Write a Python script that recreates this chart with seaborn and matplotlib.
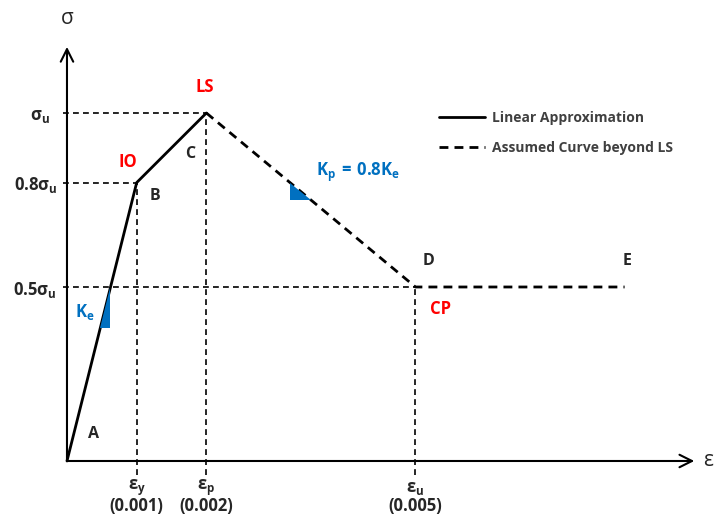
import numpy as np
import matplotlib
matplotlib.use("Agg")
import matplotlib.pyplot as plt
import seaborn as sns

# Idealised stress-strain backbone (stress as a fraction of sigma_u)
strain_linear = [0.0, 0.001, 0.002]          # A -> B -> C
stress_linear = [0.0, 0.8, 1.0]
strain_assumed = [0.002, 0.005, 0.008]       # C -> D -> E
stress_assumed = [1.0, 0.5, 0.5]

point_names = ["A", "B", "C", "D", "E"]
level_values = [1.0, 0.8, 0.5]
level_labels = [r"$\mathbf{\sigma_u}$", r"$\mathbf{0.8\sigma_u}$", r"$\mathbf{0.5\sigma_u}$"]
strain_marks = [0.001, 0.002, 0.005]
strain_symbols = [r"$\mathbf{\varepsilon_y}$", r"$\mathbf{\varepsilon_p}$", r"$\mathbf{\varepsilon_u}$"]
strain_values = ["(0.001)", "(0.002)", "(0.005)"]
performance_levels = ["IO", "LS", "CP"]
legend_labels = ["Linear Approximation", "Assumed Curve beyond LS"]

sns.set_style("white")
plt.rcParams["font.family"] = ["Open Sans", "DejaVu Sans"]
plt.rcParams["font.weight"] = "bold"
plt.rcParams["mathtext.fontset"] = "custom"
plt.rcParams["mathtext.rm"] = "Open Sans:bold"
plt.rcParams["mathtext.it"] = "Open Sans:bold"
plt.rcParams["mathtext.bf"] = "Open Sans:bold"
plt.rcParams["mathtext.sf"] = "Open Sans:bold"

fig = plt.figure(figsize=(7.15, 5.19), dpi=100)
ax = fig.add_axes([0, 0, 1, 1])
ax.set_xlim(-0.000961, 0.009297)
ax.set_ylim(-0.1667, 1.3247)
ax.axis("off")

BLUE = "#0070C0"
RED = "#FF0000"

# main curve
sns.lineplot(x=strain_linear, y=stress_linear, ax=ax, color="black", lw=2.0,
             sort=False, label=legend_labels[0])
sns.lineplot(x=strain_assumed, y=stress_assumed, ax=ax, color="black", lw=2.0,
             sort=False, linestyle=(0, (3.2, 2.2)), label=legend_labels[1])

# guide lines to the axes
guide = dict(color="black", lw=1.2, linestyle=(0, (3.5, 2.5)))
x_tick = -0.00006
ax.hlines(level_values[0], x_tick, strain_linear[2], **guide)
ax.hlines(level_values[1], x_tick, strain_linear[1], **guide)
ax.hlines(level_values[2], x_tick, strain_assumed[1], **guide)
y_tick = -0.04
ax.vlines(strain_marks[0], y_tick, stress_linear[1], **guide)
ax.vlines(strain_marks[1], y_tick, stress_linear[2], **guide)
ax.vlines(strain_marks[2], y_tick, stress_assumed[1], **guide)

# axes with open arrow heads
arrow = dict(arrowstyle="->,head_length=0.9,head_width=0.45", color="black", lw=1.5,
             shrinkA=0, shrinkB=0)
ax.annotate("", xy=(0.0090, 0), xytext=(0, 0), arrowprops=arrow)
ax.annotate("", xy=(0, 1.19), xytext=(0, 0), arrowprops=arrow)
ax.text(0.00001, 1.272, "σ", ha="center", va="center", fontsize=15, fontweight="normal")
ax.text(0.00912, 0.0, "ε", ha="left", va="center", fontsize=15, fontweight="normal")

# stiffness triangles
def on_line(xs, ys, stress):
    return np.interp(stress, ys, xs)

ke_top, ke_bot = 0.497, 0.382
ke_x = on_line(strain_linear[:2], stress_linear[:2], ke_top)
ke_xl = on_line(strain_linear[:2], stress_linear[:2], ke_bot)
ax.fill([ke_x, ke_x, ke_xl], [ke_top, ke_bot, ke_bot], color=BLUE, lw=0, zorder=3)

kp_x = 0.0032
kp_top = np.interp(kp_x, strain_assumed[:2], stress_assumed[:2])
kp_bot = 0.75
kp_xr = on_line(strain_assumed[1::-1], stress_assumed[1::-1], kp_bot)
ax.fill([kp_x, kp_x, kp_xr], [kp_top, kp_bot, kp_bot], color=BLUE, lw=0, zorder=3)

ax.text(0.000255, 0.428, r"$\mathbf{K_e}$", color=BLUE, fontsize=12, ha="center", va="center")
ax.text(0.00357, 0.828, r"$\mathbf{K_p\,=\,0.8K_e}$", color=BLUE, fontsize=12,
        ha="left", va="center")

# stress level labels
level_right = [-0.00024, -0.00014, -0.00015]
for val, lab, xr in zip(level_values, level_labels, level_right):
    ax.text(xr, val - 0.008, lab, ha="right", va="center", fontsize=12)

# strain labels
for xm, sym, v in zip(strain_marks, strain_symbols, strain_values):
    ax.text(xm, -0.078, sym, ha="center", va="center", fontsize=12)
    ax.text(xm, -0.128, v, ha="center", va="center", fontsize=12)

# point names
pts_x = [0.000375, 0.00126, 0.00177, 0.00519, 0.00804]
pts_y = [0.077, 0.762, 0.882, 0.575, 0.575]
for name, px, py in zip(point_names, pts_x, pts_y):
    ax.text(px, py, name, ha="center", va="center", fontsize=11.5)

# performance levels
perf_x = [0.00088, 0.00198, 0.00536]
perf_y = [0.858, 1.074, 0.437]
for name, px, py in zip(performance_levels, perf_x, perf_y):
    ax.text(px, py, name, ha="center", va="center", fontsize=12, color=RED)

leg = ax.legend(loc="upper left", bbox_to_anchor=(439 / 715, 1 - 111 / 519),
                frameon=False, fontsize=10, handlelength=3.3, handletextpad=0.55,
                labelspacing=1.15, borderpad=0, borderaxespad=0)
for t in leg.get_texts():
    t.set_color("#404040")

fig.savefig("out.png", dpi=100)
